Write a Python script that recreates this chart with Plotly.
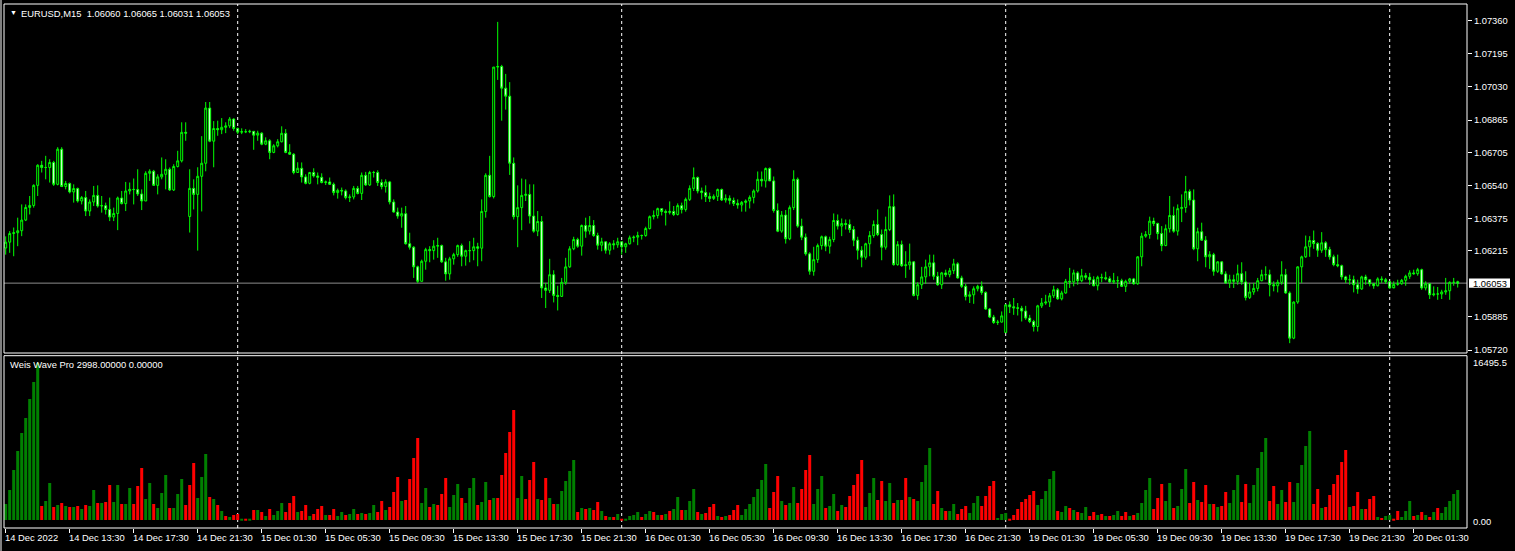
import plotly.graph_objects as go

# ---------------------------------------------------------------------------
# EURUSD M15 bars, prices in points (1 point = 0.00001)
# ---------------------------------------------------------------------------
OPEN = [
    106228, 106257, 106300, 106304, 106314, 106367, 106430, 106440, 106540, 106640,
    106629, 106629, 106654, 106545, 106720, 106534, 106549, 106507, 106524, 106462,
    106479, 106412, 106457, 106490, 106437, 106439, 106420, 106382, 106400, 106477,
    106449, 106512, 106520, 106519, 106497, 106462, 106600, 106610, 106540, 106582,
    106595, 106620, 106517, 106634, 106662, 106804, 106385, 106525, 106495, 106585,
    106650, 106925, 106760, 106823, 106817, 106829, 106836, 106870, 106823, 106805,
    106807, 106807, 106809, 106790, 106800, 106745, 106762, 106704, 106737, 106757,
    106799, 106704, 106695, 106604, 106625, 106582, 106550, 106604, 106587, 106580,
    106554, 106557, 106545, 106504, 106515, 106512, 106479, 106482, 106525, 106500,
    106590, 106542, 106604, 106604, 106554, 106534, 106557, 106457, 106407, 106387,
    106399, 106249, 106232, 106134, 106062, 106162, 106220, 106215, 106237, 106240,
    106159, 106099, 106174, 106195, 106240, 106187, 106215, 106215, 106234, 106227,
    106410, 106590, 106484, 107129, 107132, 107024, 106984, 106650, 106384, 106429,
    106490, 106495, 106387, 106312, 106360, 106029, 106017, 106095, 105992, 105987,
    106057, 106134, 106224, 106270, 106237, 106340, 106312, 106340, 106290, 106242,
    106259, 106217, 106249, 106244, 106259, 106234, 106249, 106279, 106282, 106290,
    106290, 106325, 106384, 106390, 106424, 106410, 106405, 106410, 106395, 106439,
    106420, 106470, 106525, 106579, 106512, 106504, 106484, 106475, 106485, 106519,
    106467, 106475, 106465, 106450, 106442, 106455, 106462, 106480, 106512, 106570,
    106562, 106624, 106562, 106415, 106312, 106392, 106274, 106429, 106570, 106337,
    106282, 106199, 106112, 106170, 106240, 106284, 106237, 106270, 106365, 106337,
    106350, 106345, 106320, 106267, 106217, 106182, 106249, 106290, 106345, 106295,
    106232, 106320, 106434, 106145, 106245, 106140, 106144, 106159, 105992, 106045,
    106084, 106134, 106154, 106087, 106045, 106104, 106095, 106115, 106149, 106079,
    106037, 105987, 105995, 106025, 106037, 106007, 105924, 105884, 105857, 105859,
    105807, 105945, 105935, 105930, 105928, 105914, 105879, 105862, 105837, 105940,
    105954, 105959, 105990, 106020, 105975, 106004, 106062, 106059, 106104, 106065,
    106090, 106082, 106070, 106040, 106082, 106080, 106075, 106059, 106065, 106065,
    106037, 106062, 106074, 106050, 106184, 106287, 106295, 106362, 106350, 106300,
    106240, 106324, 106390, 106312, 106424, 106430, 106509, 106467, 106224, 106309,
    106267, 106184, 106195, 106112, 106159, 106099, 106054, 106070, 106062, 106100,
    106059, 105982, 106009, 106027, 106065, 106095, 106095, 106045, 106040, 106057,
    106095, 106004, 105779, 105959, 106134, 106184, 106234, 106265, 106250, 106217,
    106254, 106220, 106184, 106145, 106140, 106084, 106070, 106070, 106045, 106024,
    106084, 106070, 106050, 106040, 106074, 106070, 106060, 106029, 106047, 106050,
    106067, 106087, 106104, 106100, 106120, 106029, 106050, 105995, 105999, 105999,
    106009, 106015, 106057, 106060,
]

HIGH = [
    106286, 106312, 106330, 106379, 106445, 106445, 106487, 106545, 106645, 106662,
    106687, 106670, 106662, 106730, 106730, 106562, 106554, 106545, 106529, 106487,
    106512, 106470, 106537, 106540, 106487, 106454, 106479, 106429, 106484, 106512,
    106557, 106554, 106574, 106620, 106520, 106610, 106620, 106617, 106595, 106679,
    106670, 106629, 106645, 106712, 106854, 106854, 106620, 106570, 106630, 106785,
    106955, 106955, 106860, 106862, 106875, 106854, 106880, 106874, 106828, 106824,
    106820, 106817, 106809, 106812, 106804, 106779, 106770, 106745, 106770, 106834,
    106820, 106745, 106700, 106655, 106654, 106595, 106607, 106625, 106604, 106600,
    106564, 106579, 106554, 106524, 106529, 106520, 106495, 106537, 106537, 106604,
    106607, 106612, 106612, 106615, 106570, 106570, 106562, 106470, 106429, 106429,
    106437, 106304, 106237, 106140, 106170, 106229, 106237, 106267, 106279, 106245,
    106179, 106184, 106204, 106245, 106250, 106220, 106262, 106279, 106254, 106470,
    106600, 106687, 107129, 107354, 107140, 107095, 107054, 106679, 106540, 106574,
    106570, 106545, 106545, 106412, 106387, 106054, 106174, 106117, 106040, 106079,
    106179, 106237, 106284, 106279, 106345, 106379, 106387, 106367, 106304, 106279,
    106259, 106257, 106267, 106279, 106262, 106254, 106290, 106290, 106309, 106295,
    106334, 106390, 106415, 106429, 106424, 106420, 106460, 106437, 106450, 106454,
    106479, 106540, 106629, 106584, 106529, 106540, 106504, 106495, 106524, 106524,
    106495, 106490, 106479, 106470, 106462, 106470, 106490, 106520, 106609, 106609,
    106629, 106629, 106584, 106450, 106412, 106417, 106440, 106615, 106579, 106374,
    106300, 106207, 106234, 106250, 106290, 106290, 106284, 106400, 106395, 106375,
    106370, 106370, 106337, 106284, 106237, 106254, 106312, 106365, 106420, 106320,
    106384, 106490, 106495, 106262, 106265, 106212, 106250, 106162, 106057, 106134,
    106170, 106195, 106195, 106109, 106109, 106120, 106129, 106174, 106157, 106090,
    106050, 106012, 106037, 106045, 106062, 106012, 105929, 105895, 105870, 105912,
    105945, 105962, 105979, 105954, 105940, 105940, 105895, 105870, 105945, 105979,
    105995, 106004, 106040, 106029, 106015, 106074, 106129, 106120, 106112, 106124,
    106104, 106104, 106087, 106090, 106100, 106110, 106087, 106104, 106087, 106075,
    106070, 106079, 106079, 106187, 106304, 106312, 106384, 106379, 106354, 106337,
    106345, 106487, 106434, 106445, 106495, 106587, 106520, 106520, 106329, 106354,
    106287, 106212, 106204, 106162, 106162, 106112, 106095, 106095, 106145, 106157,
    106112, 106054, 106054, 106079, 106120, 106137, 106120, 106062, 106070, 106162,
    106124, 106012, 105962, 106137, 106190, 106290, 106287, 106315, 106257, 106307,
    106262, 106234, 106195, 106195, 106145, 106090, 106095, 106090, 106070, 106090,
    106095, 106070, 106054, 106082, 106087, 106079, 106062, 106062, 106070, 106074,
    106095, 106117, 106120, 106129, 106125, 106062, 106054, 106037, 106034, 106020,
    106079, 106062, 106079, 106065,
]

LOW = [
    106195, 106204, 106187, 106237, 106287, 106362, 106395, 106429, 106487, 106604,
    106570, 106554, 106537, 106540, 106534, 106520, 106500, 106454, 106454, 106445,
    106387, 106387, 106437, 106429, 106404, 106395, 106362, 106362, 106317, 106445,
    106412, 106495, 106445, 106487, 106417, 106462, 106562, 106537, 106495, 106570,
    106520, 106512, 106512, 106629, 106654, 106762, 106305, 106420, 106215, 106410,
    106610, 106755, 106630, 106787, 106795, 106800, 106825, 106812, 106795, 106795,
    106800, 106800, 106717, 106762, 106740, 106740, 106670, 106700, 106729, 106754,
    106700, 106692, 106595, 106604, 106554, 106545, 106545, 106579, 106545, 106550,
    106542, 106542, 106490, 106474, 106490, 106470, 106457, 106470, 106495, 106467,
    106537, 106537, 106579, 106537, 106520, 106504, 106445, 106404, 106374, 106329,
    106245, 106220, 106079, 106054, 106062, 106120, 106157, 106170, 106179, 106154,
    106065, 106070, 106145, 106184, 106137, 106140, 106157, 106167, 106137, 106162,
    106379, 106479, 106475, 107065, 106862, 106917, 106592, 106370, 106232, 106317,
    106462, 106350, 106304, 106287, 105979, 105929, 106004, 105957, 105917, 105984,
    106045, 106129, 106217, 106229, 106190, 106279, 106295, 106284, 106220, 106212,
    106200, 106195, 106220, 106229, 106195, 106204, 106245, 106257, 106242, 106270,
    106284, 106320, 106370, 106375, 106390, 106340, 106395, 106387, 106390, 106400,
    106409, 106462, 106512, 106500, 106470, 106457, 106457, 106467, 106462, 106462,
    106454, 106445, 106437, 106424, 106409, 106409, 106425, 106450, 106504, 106534,
    106529, 106562, 106404, 106307, 106304, 106250, 106267, 106417, 106329, 106267,
    106190, 106095, 106090, 106154, 106220, 106212, 106200, 106257, 106320, 106287,
    106320, 106304, 106237, 106170, 106132, 106170, 106187, 106279, 106287, 106167,
    106220, 106312, 106140, 106140, 106134, 106079, 106120, 105987, 105970, 106024,
    106050, 106087, 106070, 106040, 106024, 106084, 106082, 106099, 106075, 106029,
    105967, 105954, 105950, 106012, 105995, 105920, 105879, 105850, 105845, 105857,
    105805, 105904, 105895, 105892, 105862, 105870, 105854, 105812, 105812, 105929,
    105945, 105934, 105979, 105970, 105967, 106000, 106029, 106037, 106045, 106057,
    106070, 106045, 106037, 106017, 106057, 106067, 106054, 106049, 106029, 106034,
    106009, 106050, 106045, 106045, 106137, 106279, 106274, 106337, 106270, 106212,
    106237, 106305, 106304, 106290, 106357, 106404, 106440, 106217, 106162, 106264,
    106132, 106124, 106090, 106104, 106095, 106050, 106029, 106029, 106045, 106045,
    105967, 105974, 105995, 106012, 106062, 106070, 105987, 106012, 106007, 106045,
    106000, 105754, 105774, 105950, 106054, 106179, 106184, 106224, 106184, 106204,
    106184, 106170, 106137, 106132, 106070, 106054, 106045, 106007, 106000, 106020,
    106045, 106037, 106025, 106037, 106054, 106049, 106024, 106034, 106040, 106045,
    106040, 106074, 106095, 106090, 106020, 106017, 105974, 105987, 105970, 105974,
    105995, 105970, 106040, 106031,
]

CLOSE = [
    106257, 106300, 106304, 106314, 106367, 106430, 106440, 106540, 106640, 106629,
    106629, 106654, 106545, 106720, 106534, 106549, 106507, 106524, 106462, 106479,
    106412, 106457, 106490, 106437, 106439, 106420, 106382, 106400, 106477, 106449,
    106512, 106520, 106519, 106497, 106462, 106600, 106610, 106540, 106582, 106595,
    106620, 106517, 106634, 106662, 106804, 106800, 106525, 106495, 106585, 106650,
    106925, 106760, 106823, 106817, 106829, 106836, 106870, 106823, 106805, 106807,
    106807, 106809, 106790, 106800, 106745, 106762, 106704, 106737, 106757, 106799,
    106704, 106695, 106604, 106625, 106582, 106550, 106604, 106587, 106580, 106554,
    106557, 106545, 106504, 106515, 106512, 106479, 106482, 106525, 106500, 106590,
    106542, 106604, 106604, 106554, 106534, 106557, 106457, 106407, 106387, 106399,
    106249, 106232, 106134, 106062, 106162, 106220, 106215, 106237, 106240, 106159,
    106099, 106174, 106195, 106240, 106187, 106215, 106215, 106234, 106227, 106410,
    106590, 106484, 107129, 107132, 107024, 106984, 106650, 106384, 106429, 106490,
    106495, 106387, 106312, 106360, 106029, 106017, 106095, 105992, 105987, 106057,
    106134, 106224, 106270, 106237, 106340, 106312, 106340, 106290, 106242, 106259,
    106217, 106249, 106244, 106259, 106234, 106249, 106279, 106282, 106290, 106290,
    106325, 106384, 106390, 106424, 106410, 106405, 106410, 106395, 106439, 106420,
    106470, 106525, 106579, 106512, 106504, 106484, 106475, 106485, 106519, 106467,
    106475, 106465, 106450, 106442, 106455, 106462, 106480, 106512, 106570, 106562,
    106624, 106562, 106415, 106312, 106392, 106274, 106429, 106570, 106337, 106282,
    106199, 106112, 106170, 106240, 106284, 106237, 106270, 106365, 106337, 106350,
    106345, 106320, 106267, 106217, 106182, 106249, 106290, 106345, 106295, 106232,
    106320, 106434, 106145, 106245, 106140, 106144, 106159, 105992, 106045, 106084,
    106134, 106154, 106087, 106045, 106104, 106095, 106115, 106149, 106079, 106037,
    105987, 105995, 106025, 106037, 106007, 105924, 105884, 105857, 105859, 105890,
    105945, 105935, 105930, 105928, 105914, 105879, 105862, 105837, 105940, 105954,
    105959, 105990, 106020, 105975, 106004, 106062, 106059, 106104, 106065, 106090,
    106082, 106070, 106040, 106082, 106080, 106075, 106059, 106065, 106065, 106037,
    106062, 106074, 106050, 106184, 106287, 106295, 106362, 106350, 106300, 106240,
    106324, 106390, 106312, 106424, 106430, 106509, 106467, 106224, 106309, 106267,
    106184, 106195, 106112, 106159, 106099, 106054, 106070, 106062, 106100, 106059,
    105982, 106009, 106027, 106065, 106095, 106095, 106045, 106040, 106057, 106095,
    106004, 105779, 105959, 106134, 106184, 106234, 106265, 106250, 106217, 106254,
    106220, 106184, 106145, 106140, 106084, 106070, 106070, 106045, 106024, 106084,
    106070, 106050, 106040, 106074, 106070, 106060, 106029, 106047, 106050, 106067,
    106087, 106104, 106100, 106120, 106029, 106050, 105995, 105999, 105999, 106009,
    106015, 106057, 106057, 106053,
]

# Weis Wave cumulative wave volume, one value per bar
WW_VOLUME = [
    1600, 3000, 5000, 6900, 8700, 10200, 12100, 13800, 15700, 1400,
    1900, 3700, 1300, 1500, 1700, 1400, 1300, 1300, 1400, 1100,
    1500, 1400, 3000, 1700, 1700, 1800, 3500, 1800, 3500, 1600,
    1600, 3200, 1600, 3400, 5200, 2100, 3700, 1600, 1200, 2700,
    4500, 1200, 1200, 2600, 4100, 1500, 3500, 5700, 2200, 4300,
    6600, 2300, 2100, 1500, 900, 400, 300, 500, 600, 70,
    70, 70, 1000, 1000, 800, 400, 1100, 500, 900, 1700,
    800, 1700, 2400, 800, 900, 1500, 400, 600, 1100, 1400,
    500, 500, 1100, 400, 800, 500, 600, 1100, 600, 700,
    600, 700, 1500, 800, 1900, 1000, 1300, 2800, 4300, 1900,
    2000, 4100, 6200, 8200, 1700, 3200, 1300, 1600, 1500, 2600,
    4200, 1300, 2500, 3600, 2200, 1700, 3200, 4200, 1500, 1800,
    3800, 2000, 2200, 2200, 4500, 6700, 8800, 11000, 2200, 4400,
    2100, 4000, 5800, 2100, 2000, 4200, 2200, 1600, 1600, 2900,
    3900, 4900, 6000, 800, 1200, 1100, 1200, 1000, 1800, 900,
    400, 300, 300, 600, 100, 100, 400, 500, 800, 300,
    600, 900, 800, 500, 500, 600, 900, 1100, 2300, 1000,
    1000, 1900, 3100, 800, 600, 700, 1300, 1600, 400, 300,
    400, 500, 1000, 1500, 500, 1100, 1600, 2300, 3100, 4000,
    5600, 1200, 2800, 4400, 1900, 1500, 1700, 3300, 1700, 3100,
    5000, 6500, 1600, 3100, 4400, 1200, 1400, 2600, 900, 1500,
    1300, 2400, 3500, 4600, 6000, 1300, 2700, 4200, 2000, 3900,
    1900, 3700, 1700, 2000, 2000, 4200, 2300, 2100, 1900, 3800,
    5500, 7200, 1600, 2900, 1200, 900, 900, 1600, 600, 1100,
    1400, 700, 1700, 2400, 1400, 2400, 3400, 3900, 200, 600,
    700, 100, 500, 1100, 1800, 2100, 2500, 2900, 1500, 2100,
    2900, 4100, 4900, 900, 800, 1400, 1200, 1000, 800, 700,
    1300, 400, 800, 500, 600, 400, 400, 500, 900, 400,
    800, 400, 500, 700, 1700, 3000, 4200, 1100, 2200, 3600,
    1900, 3700, 1200, 1400, 3100, 5100, 1700, 3800, 2000, 1800,
    3500, 1600, 1600, 1300, 1400, 2800, 1700, 3000, 4500, 1800,
    3600, 1700, 3500, 5200, 6800, 8200, 1900, 3400, 1600, 3000,
    1800, 3800, 1800, 3700, 5500, 7400, 8900, 1600, 3100, 1200,
    1300, 2500, 3600, 4500, 5800, 7000, 1300, 1400, 2800, 1100,
    1100, 2100, 2400, 300, 200, 400, 500, 100, 900, 300,
    900, 1900, 400, 500, 800, 500, 300, 800, 1200, 700,
    1300, 1900, 2600, 2998,
]

# wave direction per bar: u = up wave, d = down wave
WW_DIR = (
    "uuuuuuuuud" "uududududu" "duududduud" "uuddduuduu" "uduuuddduu"
    "ududududdu" "dudududuuu" "dddudduddd" "udduuduudu" "duuddudddu"
    "dddduududd" "duuuduuudu" "ududdddduu" "dddudduduu" "uuudududdu"
    "dududuuuud" "uudududuud" "uuududddud" "uddduuuuuu" "uddduduudd"
    "dduuuduudu" "ddddduuudd" "uududduduu" "uudduduudd" "duuudddduu"
    "uddddddduu" "uuuduududu" "uddududuud" "duduuuuddd" "uuduuuddud"
    "dududduuud" "duuuuudduu" "dduuuuuddu" "dddddduddu" "ddduduuddu"
    "uududududu" "uuuu"
)

PRICE_TICKS = [1.07360, 1.07195, 1.07030, 1.06865, 1.06705, 1.06540,
               1.06375, 1.06215, 1.05885, 1.05720]
LAST_PRICE = 1.06053
HEADER_OHLC = "1.06060 1.06065 1.06031 1.06053"

TIME_TICK_BARS = [0, 16, 32, 48, 64, 80, 96, 112, 128, 144, 160, 176,
                  192, 208, 224, 240, 256, 272, 288, 304, 320, 336, 352]
TIME_TICK_LABELS = [
    "14 Dec 2022", "14 Dec 13:30", "14 Dec 17:30", "14 Dec 21:30",
    "15 Dec 01:30", "15 Dec 05:30", "15 Dec 09:30", "15 Dec 13:30",
    "15 Dec 17:30", "15 Dec 21:30", "16 Dec 01:30", "16 Dec 05:30",
    "16 Dec 09:30", "16 Dec 13:30", "16 Dec 17:30", "16 Dec 21:30",
    "19 Dec 01:30", "19 Dec 05:30", "19 Dec 09:30", "19 Dec 13:30",
    "19 Dec 17:30", "19 Dec 21:30", "20 Dec 01:30",
]
DAY_SEPARATOR_BARS = [58, 154, 250, 346]
WW_MAX_LABEL = "16495.5"

# ── styling / geometry ─────────────────────────────────────────────────────
W, H = 1515, 551
ML, MR, MT, MB = 4, 48, 4, 23
PLOT_W = W - ML - MR
PLOT_H = H - MT - MB
FONT = "Liberation Sans, Arial, sans-serif"
FONT_SIZE = 9.4
LIME = "#00FF00"
WAVE_UP = "#008000"
WAVE_DOWN = "#FF0000"


def px(x):
    """pixel x -> paper x"""
    return (x - ML) / PLOT_W


def py(y):
    """pixel y -> paper y"""
    return (H - MB - y) / PLOT_H


PRICE_DOMAIN = [py(353), 1.0]
VOL_DOMAIN = [0.0, py(355.7)]
PRICE_RANGE = [1.057051, 1.074431]
VOL_RANGE = [-800, 16430]
X_RANGE = [-0.425, 365.325]

bars = list(range(len(CLOSE)))

fig = go.Figure()

fig.add_trace(go.Candlestick(
    x=bars,
    open=[v / 1e5 for v in OPEN],
    high=[v / 1e5 for v in HIGH],
    low=[v / 1e5 for v in LOW],
    close=[v / 1e5 for v in CLOSE],
    increasing=dict(line=dict(color=LIME, width=1), fillcolor="#000000"),
    decreasing=dict(line=dict(color=LIME, width=1), fillcolor="#FFFFFF"),
    whiskerwidth=0,
    hoverinfo="skip",
    showlegend=False,
    xaxis="x", yaxis="y",
))

fig.add_trace(go.Bar(
    x=bars,
    y=WW_VOLUME,
    width=0.75,
    marker=dict(color=[WAVE_UP if d == "u" else WAVE_DOWN for d in WW_DIR],
                line=dict(width=0)),
    hoverinfo="skip",
    showlegend=False,
    xaxis="x2", yaxis="y2",
))

shapes = [
    # panel frames
    dict(type="rect", xref="paper", yref="paper", x0=0, x1=1,
         y0=PRICE_DOMAIN[0], y1=PRICE_DOMAIN[1],
         line=dict(color="white", width=1), fillcolor="rgba(0,0,0,0)"),
    dict(type="rect", xref="paper", yref="paper", x0=0, x1=1,
         y0=VOL_DOMAIN[0], y1=VOL_DOMAIN[1],
         line=dict(color="white", width=1), fillcolor="rgba(0,0,0,0)"),
    # window border on the left
    dict(type="line", xref="paper", yref="paper", x0=px(1), x1=px(1),
         y0=py(551), y1=py(0), line=dict(color="#808080", width=2)),
    # current bid line
    dict(type="line", xref="paper", yref="y", x0=0, x1=1,
         y0=LAST_PRICE, y1=LAST_PRICE, layer="below",
         line=dict(color="#8C8C8C", width=1)),
    # current price box on the scale
    dict(type="rect", xref="paper", yref="y", x0=px(1469), x1=px(1510),
         y0=LAST_PRICE - 0.000235, y1=LAST_PRICE + 0.000235,
         line=dict(width=0), fillcolor="white"),
]
for b in DAY_SEPARATOR_BARS:
    shapes.append(dict(type="line", xref="x", yref="paper", x0=b, x1=b,
                       y0=0, y1=1, layer="below",
                       line=dict(color="white", width=1, dash="3px,3px")))

small = dict(family=FONT, size=FONT_SIZE, color="white")
annotations = [
    dict(text="▼", xref="paper", yref="paper", x=px(8), y=py(12.5),
         xanchor="left", yanchor="middle", showarrow=False,
         font=dict(family=FONT, size=7, color="white")),
    dict(text="EURUSD,M15  " + HEADER_OHLC, xref="paper", yref="paper",
         x=px(19), y=py(13), xanchor="left", yanchor="middle",
         showarrow=False, font=small),
    dict(text="Weis Wave Pro %.5f %.5f" % (WW_VOLUME[-1], 0.0),
         xref="paper", yref="paper", x=px(8), y=py(364.5),
         xanchor="left", yanchor="middle", showarrow=False, font=small),
    dict(text=WW_MAX_LABEL, xref="paper", yref="paper", x=px(1471),
         y=py(362.5), xanchor="left", yanchor="middle", showarrow=False,
         font=small),
    dict(text="0.00", xref="paper", yref="paper", x=px(1471),
         y=py(521.5), xanchor="left", yanchor="middle", showarrow=False,
         font=small),
    dict(text="%.5f" % LAST_PRICE, xref="paper", yref="y", x=px(1471),
         y=LAST_PRICE, xanchor="left", yanchor="middle", showarrow=False,
         font=dict(family=FONT, size=FONT_SIZE, color="black")),
]
for b, lab in zip(TIME_TICK_BARS, TIME_TICK_LABELS):
    annotations.append(dict(text=lab, xref="x2", yref="paper", x=b,
                            xshift=-2.5, y=py(537.5), xanchor="left",
                            yanchor="middle", showarrow=False, font=small))

fig.update_layout(
    width=W, height=H,
    margin=dict(l=ML, r=MR, t=MT, b=MB),
    paper_bgcolor="black",
    plot_bgcolor="black",
    font=dict(family=FONT, size=FONT_SIZE, color="white"),
    showlegend=False,
    xaxis=dict(domain=[0, 1], range=X_RANGE, anchor="y",
               showticklabels=False, showgrid=False, zeroline=False,
               ticks="", rangeslider=dict(visible=False)),
    xaxis2=dict(domain=[0, 1], range=X_RANGE, anchor="y2", matches="x",
                showgrid=False, zeroline=False, tickvals=TIME_TICK_BARS,
                ticks="outside", ticklen=4, tickcolor="white", tickwidth=1,
                showticklabels=False),
    yaxis=dict(domain=PRICE_DOMAIN, range=PRICE_RANGE, side="right",
               anchor="x", tickvals=PRICE_TICKS,
               ticktext=["%.5f" % v for v in PRICE_TICKS],
               ticks="outside", ticklen=4, tickcolor="white", tickwidth=1,
               tickfont=small, showgrid=False, zeroline=False),
    yaxis2=dict(domain=VOL_DOMAIN, range=VOL_RANGE, anchor="x2",
                showticklabels=False, showgrid=False, zeroline=False,
                ticks=""),
    shapes=shapes,
    annotations=annotations,
)

fig.write_html("out.html", config={"displayModeBar": False},
               post_script="document.body.style.margin='0';")
